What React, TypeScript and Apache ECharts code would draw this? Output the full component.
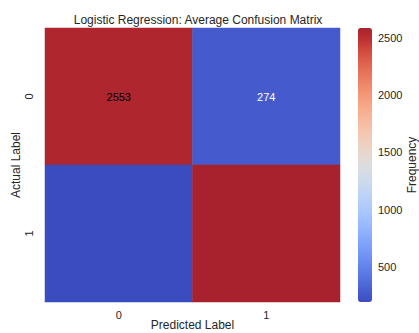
import React, { useEffect, useRef } from "react";
import * as echarts from "echarts";

const predictedLabels = ["0", "1"];
const actualLabels = ["0", "1"];
// rows = actual, cols = predicted
const matrix = [
  [2553, 274],
  [194, 2587],
];
const annotated = [
  [true, true],
  [false, false],
];
const colorbarTicks = [500, 1000, 1500, 2000, 2500];
const colorbarTitle = "Frequency";

const coolwarm = [
  "#3b4cc0", "#445acc", "#4d68d7", "#5775e1", "#6282ea", "#6c8ef1", "#779af7", "#82a5fb",
  "#8db0fe", "#98b9ff", "#a3c2ff", "#aec9fd", "#b8d0f9", "#c2d5f4", "#ccd9ee", "#d5dbe6",
  "#dddddd", "#e5d8d1", "#ecd3c5", "#f1ccb9", "#f5c4ad", "#f7bba0", "#f7b194", "#f7a687",
  "#f49a7b", "#f18d6f", "#ec7f63", "#e57058", "#de604d", "#d55042", "#c93e39", "#b92b30",
  "#a8222d",
];

export default function App() {
  const ref = useRef<HTMLDivElement>(null);
  useEffect(() => {
    if (!ref.current) return;
    const chart = echarts.init(ref.current, undefined, { renderer: "svg" });
    const flat: number[] = matrix.flat();
    const vmin = Math.min(...flat);
    const vmax = Math.max(...flat);
    const data: any[] = [];
    matrix.forEach((row, r) =>
      row.forEach((v, c) => {
        const ratio = (v - vmin) / (vmax - vmin);
        data.push({
          value: [c, r, v],
          label: {
            show: annotated[r][c],
            color: ratio > 0.5 ? "#000000" : "#ffffff",
          },
        });
      })
    );
    const font = "Liberation Sans, Arial, sans-serif";
    chart.setOption({
      animation: false,
      title: {
        text: "Logistic Regression: Average Confusion Matrix",
        left: 193,
        textAlign: "center",
        top: 9,
        padding: 5,
        textStyle: { fontSize: 12, fontWeight: "normal", color: "#262626", fontFamily: font },
      },
      graphic: [
        {
          type: "text",
          x: 412,
          y: 165,
          rotation: Math.PI / 2,
          style: {
            text: colorbarTitle,
            fontSize: 12,
            fontFamily: font,
            fill: "#262626",
            align: "center",
            verticalAlign: "middle",
          },
        },
      ],
      grid: [
        { left: 45, right: 79, top: 28, bottom: 31, outerBoundsMode: "none", containLabel: false },
        { left: 358, width: 14, top: 28, bottom: 31, outerBoundsMode: "none", containLabel: false },
      ],
      xAxis: [
        {
          type: "category",
          data: predictedLabels,
          gridIndex: 0,
          name: "Predicted Label",
          nameLocation: "middle",
          nameGap: 17,
          nameMoveOverlap: false,
          nameTextStyle: { fontSize: 12, color: "#262626", fontFamily: font },
          axisLine: { show: false },
          axisTick: { show: false },
          splitLine: { show: false },
          axisLabel: { fontSize: 11, color: "#262626", margin: 7, fontFamily: font },
        },
        {
          type: "value",
          gridIndex: 1,
          show: false,
        },
      ],
      yAxis: [
        {
          type: "category",
          data: actualLabels,
          inverse: true,
          gridIndex: 0,
          name: "Actual Label",
          nameLocation: "middle",
          nameGap: 23,
          nameMoveOverlap: false,
          nameTextStyle: { fontSize: 12, color: "#262626", fontFamily: font },
          axisLine: { show: false },
          axisTick: { show: false },
          splitLine: { show: false },
          axisLabel: { fontSize: 11, color: "#262626", rotate: 90, margin: 11, fontFamily: font },
        },
        {
          type: "value",
          gridIndex: 1,
          min: vmin,
          max: vmax,
          position: "right",
          axisLine: { show: false },
          splitLine: { show: false },
          axisTick: {
            show: true,
            length: 3,
            lineStyle: { color: "#262626" },
            customValues: colorbarTicks,
          },
          axisLabel: {
            fontSize: 11,
            color: "#262626",
            margin: 6,
            fontFamily: font,
            customValues: colorbarTicks,
            formatter: (v: number) => String(v),
          },
        },
      ],
      visualMap: {
        type: "continuous",
        min: vmin,
        max: vmax,
        seriesIndex: 0,
        dimension: 2,
        calculable: false,
        hoverLink: false,
        left: 358,
        top: 28,
        padding: 0,
        itemWidth: 14,
        itemHeight: 274,
        text: ["", ""],
        showLabel: false,
        inRange: { color: coolwarm },
      },
      series: [
        {
          type: "heatmap",
          xAxisIndex: 0,
          yAxisIndex: 0,
          data,
          label: {
            fontSize: 11,
            fontFamily: font,
            formatter: (p: any) => String(p.value[2]),
          },
          emphasis: { disabled: true },
        },
      ],
    });
    return () => chart.dispose();
  }, []);
  return (
    <div
      ref={ref}
      style={{ position: "absolute", left: 0, top: 0, width: 419, height: 333, overflow: "hidden" }}
    />
  );
}
